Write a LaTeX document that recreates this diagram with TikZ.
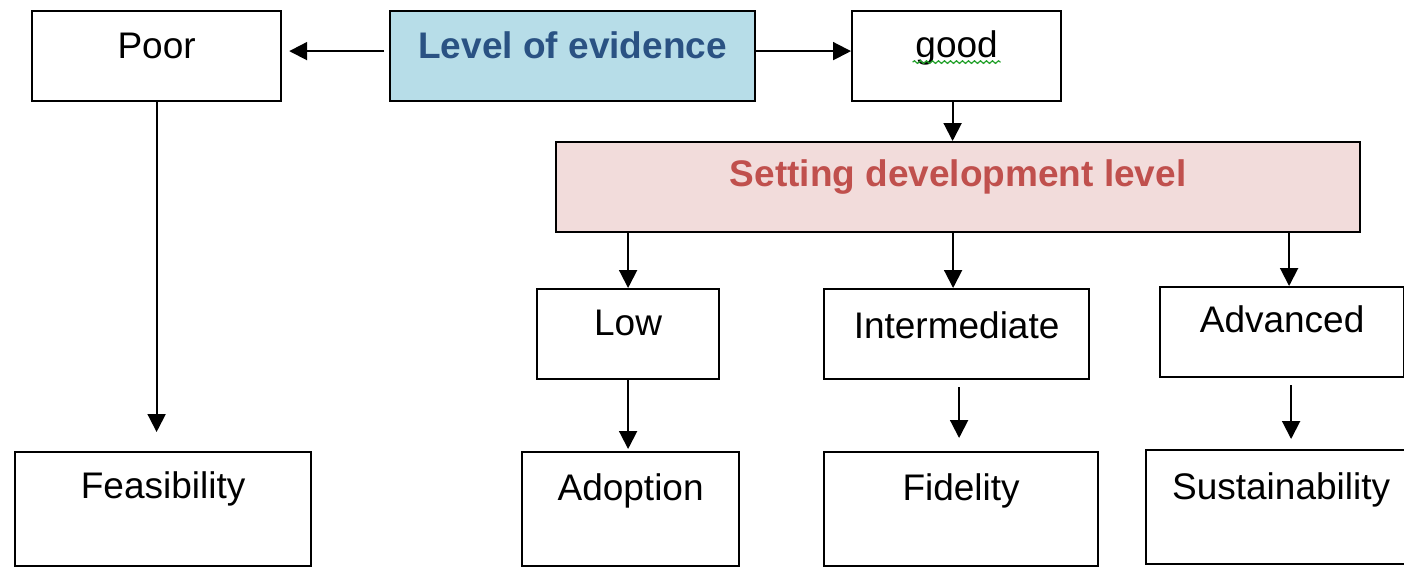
\documentclass[tikz,border=0pt]{standalone}
\usepackage{fontspec}
\setmainfont{Liberation Sans}
\usetikzlibrary{arrows.meta,decorations.pathmorphing}
\definecolor{evfill}{HTML}{B7DDE8}
\definecolor{evtext}{HTML}{2A5283}
\definecolor{setfill}{HTML}{F2DCDB}
\definecolor{settext}{HTML}{C0504D}
\definecolor{spellgreen}{HTML}{22A02A}
\tikzset{
  box/.style={draw, line width=2.2pt, inner sep=0pt, anchor=north west,
    font=\fontsize{37}{44}\selectfont},
  size/.style n args={4}{minimum width=#1, minimum height=#2,
    text height=#3, text depth=#4},
  arr/.style={line width=2pt, -{Triangle[length=18pt,width=18pt]}}
}
\begin{document}
\begin{tikzpicture}[x=1pt,y=-1pt]
\clip (0,0) rectangle (1404,566);
\fill[white] (0,0) rectangle (1404,566);

% top row
\node[box, size={249}{90}{47}{43}] (poor) at (31,10) {Poor};
\node[box, size={365}{90}{47}{43}, fill=evfill, text=evtext,
  font=\fontsize{37}{44}\selectfont\bfseries] (lev) at (389,10) {Level of evidence};
\node[box, size={209}{90}{46}{44}] (good) at (851,10) {good};
\draw[spellgreen, line width=1.2pt, decorate,
  decoration={snake, segment length=6pt, amplitude=1.3pt}]
  ([xshift=-44pt,yshift=-5pt]good.base) -- ([xshift=44pt,yshift=-5pt]good.base);

% development level
\node[box, size={804}{90}{44}{46}, fill=setfill, text=settext,
  font=\fontsize{37}{44}\selectfont\bfseries] (set) at (555,141) {Setting development level};

\node[box, size={182}{90}{46}{44}] (low) at (536,288) {Low};
\node[box, size={265}{90}{49}{41}] (inter) at (823,288) {Intermediate};
\node[box, size={244}{90}{45}{45}] (adv) at (1159,286) {Advanced};

% outcomes
\node[box, size={296}{114}{46}{68}] (feas) at (14,451) {Feasibility};
\node[box, size={217}{114}{48}{66}] (ado) at (521,451) {Adoption};
\node[box, size={274}{114}{48}{66}] (fid) at (823,451) {Fidelity};
\node[box, size={270}{114}{49}{65}] (sus) at (1145,449) {Sustainability};

% connectors
\draw[arr, shorten <=5pt, shorten >=7pt] ([yshift=5pt]lev.west) -- ([yshift=5pt]lev.west -| poor.east);
\draw[arr] ([yshift=5pt]lev.east) -- ([yshift=5pt]lev.east -| good.west);
\draw[arr] ([xshift=-4pt]good.south) -- ([xshift=-4pt]good.south |- set.north);
\draw[arr, shorten >=19pt] (poor.south) -- (poor.south |- feas.north);
\draw[arr] (low.north |- set.south) -- (low.north);
\draw[arr] ([xshift=-3.5pt]inter.north |- set.south) -- ([xshift=-3.5pt]inter.north);
\draw[arr] ([xshift=7pt]adv.north |- set.south) -- ([xshift=7pt]adv.north);
\draw[arr, shorten >=2pt] (low.south) -- (low.south |- ado.north);
\draw[arr, shorten <=7pt, shorten >=13pt] ([xshift=2.5pt]inter.south) -- ([xshift=2.5pt]inter.south |- fid.north);
\draw[arr, shorten <=7pt, shorten >=10pt] ([xshift=9pt]adv.south) -- ([xshift=9pt]adv.south |- sus.north);
\end{tikzpicture}
\end{document}
